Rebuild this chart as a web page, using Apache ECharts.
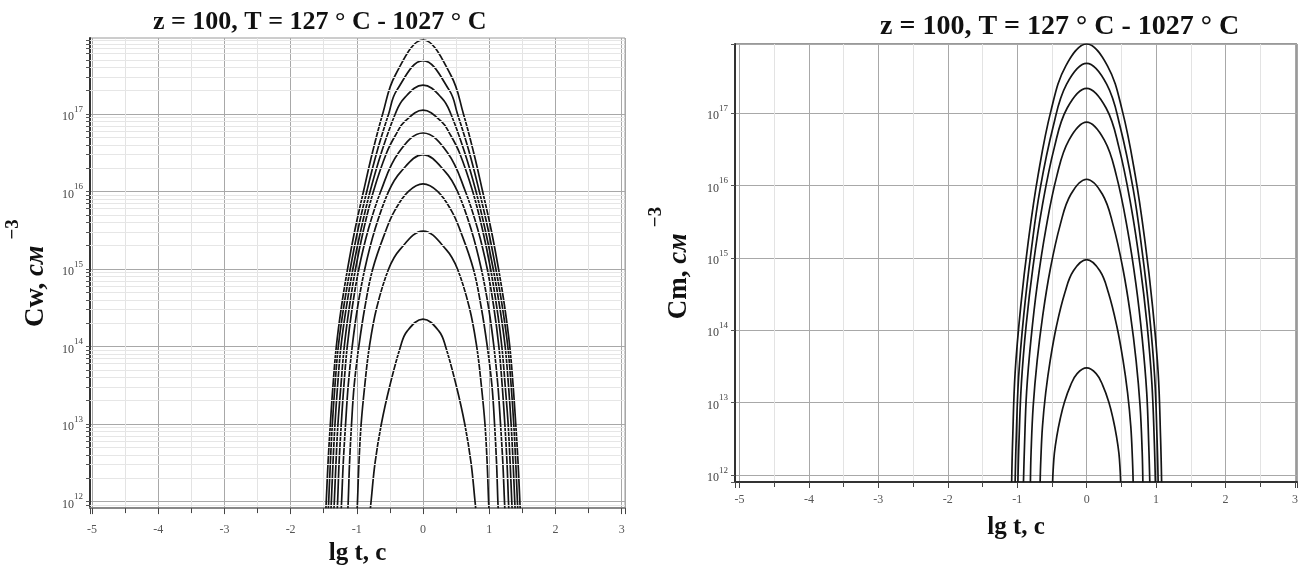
<!DOCTYPE html>
<html>
<head>
<meta charset="utf-8">
<script src="https://cdn.jsdelivr.net/npm/echarts@6/dist/echarts.min.js"></script>
<style>
  html, body { margin: 0; padding: 0; background: #fff; }
  #chart { width: 1306px; height: 571px; }
</style>
</head>
<body>
<div id="chart"></div>
<script>
// Concentration profiles vs lg t, z = 100, T = 127 °C … 1027 °C.
// Each curve: [lg t (s), concentration (cm^-3)].

// --- Cw (left panel), from the highest to the lowest curve ---
const cw1 = [[-1.467,8.2e11],[-1.462,1e12],[-1.435,3.16e12],[-1.40,1e13],[-1.36,3.16e13],[-1.31,1e14],[-1.235,3.16e14],[-1.14,1e15],[-1.03,3.16e15],[-0.90,1e16],[-0.765,3.16e16],[-0.61,1e17],[-0.42,3.16e17],
             [0,9.0e17],
             [0.42,3.16e17],[0.61,1e17],[0.765,3.16e16],[0.90,1e16],[1.03,3.16e15],[1.14,1e15],[1.235,3.16e14],[1.31,1e14],[1.36,3.16e13],[1.40,1e13],[1.435,3.16e12],[1.462,1e12],[1.467,8.2e11]];
const cw2 = [[-1.43,8.2e11],[-1.425,1e12],[-1.40,3.16e12],[-1.37,1e13],[-1.33,3.16e13],[-1.28,1e14],[-1.20,3.16e14],[-1.10,1e15],[-0.985,3.16e15],[-0.85,1e16],[-0.70,3.16e16],[-0.52,1e17],[-0.40,2.0e17],
             [0,4.88e17],
             [0.40,2.0e17],[0.52,1e17],[0.70,3.16e16],[0.85,1e16],[0.985,3.16e15],[1.10,1e15],[1.20,3.16e14],[1.28,1e14],[1.33,3.16e13],[1.37,1e13],[1.40,3.16e12],[1.425,1e12],[1.43,8.2e11]];
const cw3 = [[-1.39,8.2e11],[-1.385,1e12],[-1.36,3.16e12],[-1.33,1e13],[-1.29,3.16e13],[-1.24,1e14],[-1.16,3.16e14],[-1.06,1e15],[-0.94,3.16e15],[-0.80,1e16],[-0.63,3.16e16],[-0.42,1e17],[-0.29,1.58e17],
             [0,2.36e17],
             [0.29,1.58e17],[0.42,1e17],[0.63,3.16e16],[0.80,1e16],[0.94,3.16e15],[1.06,1e15],[1.16,3.16e14],[1.24,1e14],[1.29,3.16e13],[1.33,1e13],[1.36,3.16e12],[1.385,1e12],[1.39,8.2e11]];
const cw4 = [[-1.345,8.2e11],[-1.34,1e12],[-1.315,3.16e12],[-1.285,1e13],[-1.24,3.16e13],[-1.19,1e14],[-1.115,3.16e14],[-1.02,1e15],[-0.90,3.16e15],[-0.75,1e16],[-0.55,3.16e16],[-0.40,5.62e16],[-0.28,7.94e16],
             [0,1.12e17],
             [0.28,7.94e16],[0.40,5.62e16],[0.55,3.16e16],[0.75,1e16],[0.90,3.16e15],[1.02,1e15],[1.115,3.16e14],[1.19,1e14],[1.24,3.16e13],[1.285,1e13],[1.315,3.16e12],[1.34,1e12],[1.345,8.2e11]];
const cw5 = [[-1.295,8.2e11],[-1.29,1e12],[-1.268,3.16e12],[-1.235,1e13],[-1.195,3.16e13],[-1.145,1e14],[-1.07,3.16e14],[-0.97,1e15],[-0.83,3.16e15],[-0.64,1e16],[-0.37,3.16e16],
             [0,5.68e16],
             [0.37,3.16e16],[0.64,1e16],[0.83,3.16e15],[0.97,1e15],[1.07,3.16e14],[1.145,1e14],[1.195,3.16e13],[1.235,1e13],[1.268,3.16e12],[1.29,1e12],[1.295,8.2e11]];
const cw6 = [[-1.235,8.2e11],[-1.23,1e12],[-1.205,3.16e12],[-1.17,1e13],[-1.13,3.16e13],[-1.07,1e14],[-0.99,3.16e14],[-0.88,1e15],[-0.73,3.16e15],[-0.52,1e16],[-0.34,1.78e16],
             [0,2.98e16],
             [0.34,1.78e16],[0.52,1e16],[0.73,3.16e15],[0.88,1e15],[0.99,3.16e14],[1.07,1e14],[1.13,3.16e13],[1.17,1e13],[1.205,3.16e12],[1.23,1e12],[1.235,8.2e11]];
const cw7 = [[-1.135,8.2e11],[-1.13,1e12],[-1.11,3.16e12],[-1.08,1e13],[-1.04,3.16e13],[-0.97,1e14],[-0.88,3.16e14],[-0.76,1e15],[-0.56,3.16e15],[-0.43,5.62e15],[-0.22,1e16],
             [0,1.25e16],
             [0.22,1e16],[0.43,5.62e15],[0.56,3.16e15],[0.76,1e15],[0.88,3.16e14],[0.97,1e14],[1.04,3.16e13],[1.08,1e13],[1.11,3.16e12],[1.13,1e12],[1.135,8.2e11]];
const cw8 = [[-0.995,8.2e11],[-0.99,1e12],[-0.968,3.16e12],[-0.935,1e13],[-0.88,3.16e13],[-0.81,1e14],[-0.70,3.16e14],[-0.52,1e15],[-0.35,1.78e15],
             [0,3.08e15],
             [0.35,1.78e15],[0.52,1e15],[0.70,3.16e14],[0.81,1e14],[0.88,3.16e13],[0.935,1e13],[0.968,3.16e12],[0.99,1e12],[0.995,8.2e11]];
const cw9 = [[-0.795,8.2e11],[-0.785,1e12],[-0.725,3.16e12],[-0.63,1e13],[-0.50,3.16e13],[-0.34,1e14],[-0.24,1.58e14],
             [0,2.26e14],
             [0.24,1.58e14],[0.34,1e14],[0.50,3.16e13],[0.63,1e13],[0.725,3.16e12],[0.785,1e12],[0.795,8.2e11]];

// --- Cm (right panel), from the highest to the lowest curve ---
const cm1 = [[-1.08,7.9e11],[-1.065,3.21e12],[-1.03,2.59e13],[-0.95,2.10e14],[-0.84,1.70e15],[-0.70,1.38e16],[-0.51,1.12e17],[-0.30,4.51e17],[0,9.06e17],[0.30,4.51e17],[0.51,1.12e17],[0.70,1.38e16],[0.84,1.70e15],[0.95,2.10e14],[1.03,2.59e13],[1.065,3.21e12],[1.08,7.9e11]];
const cm2 = [[-1.03,7.9e11],[-1.015,3.01e12],[-0.98,2.23e13],[-0.905,1.64e14],[-0.80,1.22e15],[-0.67,8.97e15],[-0.48,6.64e16],[-0.29,2.51e17],[0,4.90e17],[0.29,2.51e17],[0.48,6.64e16],[0.67,8.97e15],[0.80,1.22e15],[0.905,1.64e14],[0.98,2.23e13],[1.015,3.01e12],[1.03,7.9e11]];
const cm3 = [[-0.99,7.9e11],[-0.975,2.79e12],[-0.94,1.82e13],[-0.87,1.20e14],[-0.77,7.85e14],[-0.64,5.15e15],[-0.465,3.37e16],[-0.28,1.18e17],[0,2.21e17],[0.28,1.18e17],[0.465,3.37e16],[0.64,5.15e15],[0.77,7.85e14],[0.87,1.20e14],[0.94,1.82e13],[0.975,2.79e12],[0.99,7.9e11]];
const cm4 = [[-0.91,7.9e11],[-0.895,2.50e12],[-0.865,1.39e13],[-0.80,7.76e13],[-0.71,4.34e14],[-0.59,2.42e15],[-0.43,1.35e16],[-0.255,4.24e16],[0,7.52e16],[0.255,4.24e16],[0.43,1.35e16],[0.59,2.42e15],[0.71,4.34e14],[0.80,7.76e13],[0.865,1.39e13],[0.895,2.50e12],[0.91,7.9e11]];
const cm5 = [[-0.81,7.9e11],[-0.80,2.08e12],[-0.77,8.85e12],[-0.713,3.76e13],[-0.632,1.60e14],[-0.526,6.79e14],[-0.38,2.88e15],[-0.227,7.57e15],[0,1.22e16],[0.227,7.57e15],[0.38,2.88e15],[0.526,6.79e14],[0.632,1.60e14],[0.713,3.76e13],[0.77,8.85e12],[0.80,2.08e12],[0.81,7.9e11]];
const cm6 = [[-0.67,7.9e11],[-0.66,1.61e12],[-0.636,4.67e12],[-0.59,1.35e13],[-0.523,3.90e13],[-0.435,1.13e14],[-0.315,3.26e14],[-0.19,6.61e14],[0,9.42e14],[0.19,6.61e14],[0.315,3.26e14],[0.435,1.13e14],[0.523,3.90e13],[0.59,1.35e13],[0.636,4.67e12],[0.66,1.61e12],[0.67,7.9e11]];
const cm7 = [[-0.49,7.9e11],[-0.483,1.14e12],[-0.465,1.97e12],[-0.43,3.40e12],[-0.382,5.85e12],[-0.32,1.01e13],[-0.23,1.74e13],[-0.137,2.50e13],[0,3.0e13],[0.137,2.50e13],[0.23,1.74e13],[0.32,1.01e13],[0.382,5.85e12],[0.43,3.40e12],[0.465,1.97e12],[0.483,1.14e12],[0.49,7.9e11]];

const cwCurves = [cw1, cw2, cw3, cw4, cw5, cw6, cw7, cw8, cw9];
const cmCurves = [cm1, cm2, cm3, cm4, cm5, cm6, cm7];

// Axis ranges
const lgTRangeW = [-5.03, 3.05];
const cwRange = [8.22e11, 9.55e17];
const lgTRangeM = [-5.065, 3.03];
const cmRange = [7.94e11, 9.06e17];

const titleText = 'z = 100, T = 127 ° C - 1027 ° C';
const xName = 'lg t, c';

// Intermediate levels k·10^n on the Cw axis (light grid lines and ticks)
const cwMinorLevels = [];
for (let n = 11; n <= 17; n++) {
  for (let k = 2; k <= 9; k++) {
    const v = k * Math.pow(10, n);
    if (v > cwRange[0] && v < cwRange[1]) cwMinorLevels.push(v);
  }
}
const cwTickLevels = [1e12, 1e13, 1e14, 1e15, 1e16, 1e17].concat(cwMinorLevels);

const SERIF = '"Liberation Serif", "DejaVu Serif", serif';

function powerLabel(v) {
  const e = Math.log10(v);
  const r = Math.round(e);
  if (Math.abs(e - r) > 1e-6) return '';
  return '{b|10}{e|' + r + '}';
}
function intLabel(v) {
  return Math.abs(v - Math.round(v)) < 1e-6 ? String(Math.round(v)) : '';
}

const powRich = {
  b: { fontFamily: SERIF, fontSize: 12, color: '#444', lineHeight: 18, verticalAlign: 'bottom' },
  e: { fontFamily: SERIF, fontSize: 9, color: '#444', lineHeight: 18, verticalAlign: 'top' }
};

function xAxisCfg(gridIndex, range, nameGap, lineColor, labelMargin) {
  return {
    type: 'value', gridIndex, min: range[0], max: range[1], splitNumber: 8,
    name: xName, nameLocation: 'middle', nameGap,
    nameTextStyle: { fontFamily: SERIF, fontSize: 25, fontWeight: 'bold', color: '#111' },
    axisLine: { show: true, onZero: false, lineStyle: { color: lineColor, width: 2 } },
    axisTick: { show: true, length: 6, lineStyle: { color: '#444' } },
    minorTick: { show: true, splitNumber: 2, length: 5, lineStyle: { color: '#444' } },
    splitLine: { show: true, lineStyle: { color: '#a8a8a8', width: 1 } },
    minorSplitLine: { show: true, lineStyle: { color: '#e3e3e3', width: 1 } },
    axisLabel: { formatter: intLabel, fontFamily: SERIF, fontSize: 12, color: '#555', margin: labelMargin }
  };
}

function yAxisCfg(gridIndex, range, name, nameGap, tickValues) {
  const tick = { show: true, length: 4, lineStyle: { color: '#555' } };
  if (tickValues) tick.customValues = tickValues;
  return {
    type: 'log', logBase: 10, gridIndex, min: range[0], max: range[1],
    name, nameLocation: 'middle', nameGap, nameRotate: 90,
    nameTextStyle: {
      rich: {
        b: { fontFamily: SERIF, fontSize: 27, fontWeight: 'bold', color: '#111', lineHeight: 46, verticalAlign: 'bottom' },
        i: { fontFamily: SERIF, fontSize: 27, fontStyle: 'italic', fontWeight: 'bold', color: '#111', lineHeight: 46, verticalAlign: 'bottom' },
        s: { fontFamily: SERIF, fontSize: 19, fontWeight: 'bold', color: '#111', lineHeight: 46, verticalAlign: 'top', padding: [0, 0, 0, 6] }
      }
    },
    axisLine: { show: true, onZero: false, lineStyle: { color: '#333', width: 2 } },
    axisTick: tick,
    splitLine: { show: true, lineStyle: { color: '#a8a8a8', width: 1 } },
    axisLabel: { formatter: powerLabel, rich: powRich, margin: 7 }
  };
}

function curveSeries(data, xi, yi) {
  return {
    type: 'line', xAxisIndex: xi, yAxisIndex: yi, data,
    smooth: 0.4, showSymbol: false, symbol: 'none', clip: true,
    lineStyle: { color: '#151515', width: 1.7 }, silent: true
  };
}

const series = [];
// light intermediate horizontal grid on the Cw panel
series.push({
  type: 'line', xAxisIndex: 0, yAxisIndex: 0, data: [], silent: true,
  markLine: {
    silent: true, symbol: 'none', label: { show: false }, animation: false,
    lineStyle: { color: '#e6e6e6', type: 'solid', width: 1 },
    data: cwMinorLevels.map(v => ({ yAxis: v }))
  }
});
cwCurves.forEach(c => series.push(curveSeries(c, 0, 0)));
cmCurves.forEach(c => series.push(curveSeries(c, 1, 1)));

const chart = echarts.init(document.getElementById('chart'), null, { renderer: 'canvas' });
chart.setOption({
  animation: false,
  backgroundColor: '#fff',
  title: [
    { text: titleText, left: 148, top: 4,
      textStyle: { fontFamily: SERIF, fontSize: 26, fontWeight: 'bold', color: '#111' } },
    { text: titleText, left: 875, top: 8,
      textStyle: { fontFamily: SERIF, fontSize: 28, fontWeight: 'bold', color: '#111' } }
  ],
  grid: [
    { left: 90, top: 38, width: 535, height: 477, show: true, borderColor: '#9a9a9a', borderWidth: 1, backgroundColor: 'transparent' },
    { left: 735, top: 44, width: 562, height: 438, show: true, borderColor: '#333', borderWidth: 1, backgroundColor: 'transparent' }
  ],
  xAxis: [
    xAxisCfg(0, lgTRangeW, 30, '#888', 16),
    xAxisCfg(1, lgTRangeM, 33, '#333', 12)
  ],
  yAxis: [
    yAxisCfg(0, cwRange, '{b|Cw, }{i|см}{s|−3}', 40, cwTickLevels),
    yAxisCfg(1, cmRange, '{b|Cm, }{i|см}{s|−3}', 42, null)
  ],
  series
});
</script>
</body>
</html>
